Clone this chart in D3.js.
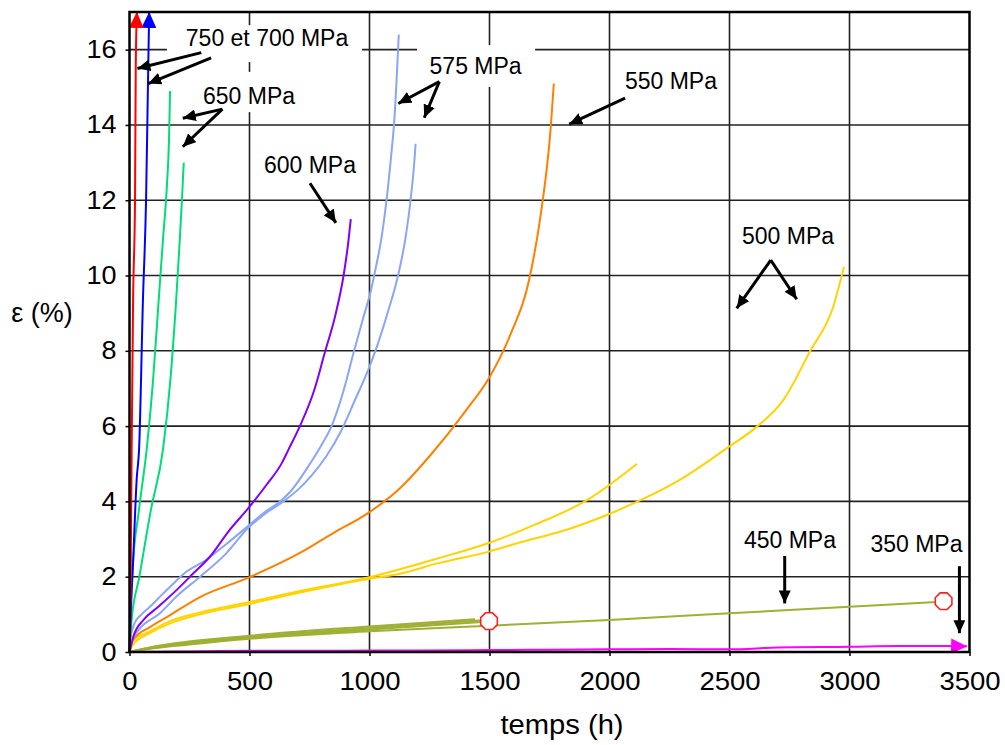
<!DOCTYPE html>
<html><head><meta charset="utf-8">
<script src="https://cdn.jsdelivr.net/npm/d3@7"></script>
<style>
html,body{margin:0;padding:0;background:#fff;}
svg{display:block;font-family:"Liberation Sans",Arial,sans-serif;}
</style></head>
<body><svg id="c" width="1005" height="745"></svg>
<script>
// ---------- DATA (temps h, epsilon %) ----------
const xTicks = [0,500,1000,1500,2000,2500,3000,3500];
const yTicks = [0,2,4,6,8,10,12,14,16];
const xLabel = "temps (h)";
const yLabel = "ε (%)";

const s750 = [[0,0],[4,1.5],[9,5.4],[15,9.35],[23,12],[26,15.5],[31,17]];
const s700 = [[0,0],[5,1],[15,2.4],[30,4.6],[40,5.4],[56,9.35],[69,12],[78,15.5],[82,17]];
const s650a = [[0,0],[3,0.8],[11,2],[40,3.8],[72,5.4],[98,7.2],[120,9.2],[140,11],[156,12.4],[165,13.7],[169,14.9]];
const s650b = [[0,0],[8,0.8],[41,2],[90,3.8],[140,5.4],[170,7.2],[193,9.2],[210,11],[220,12.2],[226,13]];
const s600 = [[0,0],[16,0.41],[58,0.85],[120,1.2],[197,1.65],[266,2.09],[335,2.53],[412,3.2],[495,3.82],[572,4.45],[634,5.01],[662,5.37],[710,6.0],[770,6.96],[815,7.98],[856,8.9],[892,10],[910,10.8],[922,11.5]];
const s575a = [[0,0],[5,0.4],[20,0.75],[50,1.0],[85,1.2],[127,1.47],[180,1.8],[230,2.1],[320,2.45],[400,2.85],[495,3.35],[560,3.7],[627,4.0],[669,4.25],[752,5.0],[800,5.5],[842,6.0],[890,6.9],[935,7.98],[975,8.9],[1002,9.5],[1026,10.2],[1050,11],[1071,12],[1092,13.3],[1102,14],[1122,16.4]];
const s575b = [[0,0],[10,0.3],[40,0.6],[127,1.03],[200,1.5],[294,2.0],[400,2.6],[495,3.3],[560,3.65],[641,4.0],[700,4.3],[760,4.7],[820,5.2],[880,5.85],[940,6.7],[995,7.5],[1030,8.1],[1075,9.0],[1119,10],[1150,11],[1171,12],[1190,13.3],[1192,13.5]];
const s550 = [[0,0],[15,0.32],[85,0.66],[169,0.98],[294,1.46],[494,1.97],[710,2.63],[849,3.16],[994,3.69],[1127,4.35],[1250,5.2],[1400,6.4],[1500,7.3],[1585,8.4],[1669,10],[1710,11.47],[1756,14],[1768,15.1]];
const s500a = [[0,0],[15,0.3],[85,0.55],[169,0.82],[294,1.05],[494,1.32],[710,1.62],[994,1.98],[1127,2.2],[1287,2.49],[1494,2.89],[1685,3.37],[1908,4.04],[2115,5.0]];
const s500b = [[0,0],[15,0.2],[85,0.5],[169,0.76],[294,1.0],[494,1.27],[710,1.58],[994,1.94],[1127,2.08],[1287,2.36],[1494,2.66],[1637,2.93],[1797,3.2],[2004,3.68],[2131,4.04],[2300,4.6],[2488,5.41],[2613,5.98],[2724,6.69],[2835,7.98],[2932,9.17],[2977,10.23]];
const s450a = [[0,0],[100,0.1],[250,0.2],[500,0.35],[1000,0.55],[1500,0.7],[2000,0.85],[2500,1.03],[3000,1.2],[3390,1.34]];
const s450b = [[0,0],[100,0.13],[500,0.4],[1000,0.64],[1460,0.84]];
const s450c = [[0,0],[100,0.11],[500,0.37],[1000,0.6],[1470,0.8]];
const s450d = [[0,0],[100,0.14],[500,0.43],[1000,0.68],[1440,0.87]];
const s350 = [[0,0],[200,0.01],[500,0.03],[800,0.03],[1000,0.04],[1200,0.04],[1500,0.05],[1750,0.06],[2000,0.07],[2250,0.08],[2500,0.07],[2700,0.12],[3000,0.14],[3200,0.16],[3400,0.16],[3490,0.15]];
const ruptureMarks = [[1498,0.82],[3392,1.35]];

// annotations: text, text anchor point (t,e), arrows [from, to] in (t,e)
const annotations = [
  {text:"750 et 700 MPa", at:[573,16.1], arrows:[[[299,15.92],[33,15.5]],[[340,15.78],[78,15.1]]], box:[[156,16.65],[969,15.67]]},
  {text:"650 MPa", at:[498,14.56], arrows:[[[387,14.42],[222,14.18]],[[387,14.42],[222,13.42]]], box:[[281,15.41],[719,14.34]]},
  {text:"600 MPa", at:[752,12.72], arrows:[[[752,12.45],[860,11.4]]]},
  {text:"575 MPa", at:[1442,15.35], arrows:[[[1291,15.15],[1120,14.57]],[[1291,15.15],[1228,14.19]]], box:[[1198,16.12],[1690,15.01]]},
  {text:"550 MPa", at:[2256,14.95], arrows:[[[2065,14.71],[1832,14.02]]]},
  {text:"500 MPa", at:[2744,10.84], arrows:[[[2672,10.41],[2530,9.13]],[[2672,10.41],[2780,9.37]]]},
  {text:"450 MPa", at:[2752,2.76], arrows:[[[2730,2.55],[2730,1.29]]]},
  {text:"350 MPa", at:[3279,2.66], arrows:[[[3458,2.28],[3458,0.5]]]}
];

const series = [
  {d:s450a,c:"#9fb034"},{d:s450b,c:"#9fb034"},{d:s450c,c:"#9fb034"},{d:s450d,c:"#9fb034"},
  {d:s350,c:"#ff00ff",arrow:true},
  {d:s500a,c:"#ffd400"},{d:s500b,c:"#ffd400"},
  {d:s550,c:"#ff8000"},
  {d:s575a,c:"#8aa6f4"},{d:s575b,c:"#8aa6f4"},
  {d:s600,c:"#7f00ff"},
  {d:s650a,c:"#00dd77"},{d:s650b,c:"#00dd77"},
  {d:s700,c:"#0000ff",arrow:true},
  {d:s750,c:"#ff0000",arrow:true}
];

// ---------- DRAW ----------
const svg = d3.select("#c");
const x = d3.scaleLinear().domain([0,3500]).range([129.5,969.5]);
const y = d3.scaleLinear().domain([0,17]).range([652,12]);

const defs = svg.append("defs");
function marker(id, color, len, wid){
  defs.append("marker").attr("id",id).attr("markerUnits","userSpaceOnUse")
    .attr("markerWidth",len).attr("markerHeight",wid).attr("refX",len).attr("refY",wid/2)
    .attr("orient","auto").append("path")
    .attr("d",`M0,0L${len},${wid/2}L0,${wid}Z`).attr("fill",color);
}
marker("ablack","#000",13,12);
series.forEach((s,i)=>{ if(s.arrow) marker("a"+i, s.c, 16, 15); });

// grid
const g = svg.append("g");
g.selectAll(".gx").data(xTicks.filter(v=>v>0&&v<3500)).join("line")
  .attr("x1",d=>x(d)).attr("x2",d=>x(d)).attr("y1",y(0)).attr("y2",y(17))
  .attr("stroke","#222").attr("stroke-width",1.6);
g.selectAll(".gy").data(yTicks.filter(v=>v>0)).join("line")
  .attr("x1",x(0)).attr("x2",x(3500)).attr("y1",d=>y(d)).attr("y2",d=>y(d))
  .attr("stroke","#222").attr("stroke-width",1.6);

// label boxes
annotations.filter(a=>a.box).forEach(a=>{
  svg.append("rect").attr("x",x(a.box[0][0])).attr("y",y(a.box[0][1]))
    .attr("width",x(a.box[1][0])-x(a.box[0][0])).attr("height",y(a.box[1][1])-y(a.box[0][1]))
    .attr("fill","#fff");
});

// series
const line = d3.line().x(d=>x(d[0])).y(d=>y(d[1])).curve(d3.curveMonotoneX);
series.forEach((s,i)=>{
  svg.append("path").attr("d",line(s.d))
    .attr("fill","none").attr("stroke",s.c).attr("stroke-width",2)
    .attr("stroke-linejoin","round")
    .attr("marker-end", s.arrow ? `url(#a${i})` : null);
});

// rupture marks (octagons)
const oct = d3.range(8).map(k=>{const a=Math.PI/8+k*Math.PI/4;return [9*Math.cos(a),9*Math.sin(a)];});
svg.selectAll(".oct").data(ruptureMarks).join("path")
  .attr("transform",d=>`translate(${x(d[0])},${y(d[1])})`)
  .attr("d","M"+oct.map(p=>p.join(",")).join("L")+"Z")
  .attr("fill","#fff").attr("stroke","#ff2020").attr("stroke-width",1.6);

// frame
svg.append("rect").attr("x",x(0)).attr("y",y(17)).attr("width",x(3500)-x(0)).attr("height",y(0)-y(17))
  .attr("fill","none").attr("stroke","#000").attr("stroke-width",2.5);

// axes
const ax = svg.append("g").attr("transform",`translate(0,${y(0)})`)
  .call(d3.axisBottom(x).tickValues(xTicks).tickSize(4).tickPadding(16).tickFormat(d3.format("d")));
const ay = svg.append("g").attr("transform",`translate(${x(0)},0)`)
  .call(d3.axisLeft(y).tickValues(yTicks).tickSize(4).tickPadding(9).tickFormat(d3.format("d")));
[ax,ay].forEach(a=>{
  a.select(".domain").remove();
  a.selectAll("line").attr("stroke","#000").attr("stroke-width",1.5);
  a.selectAll("text").attr("font-family","'Liberation Sans',Arial,sans-serif").attr("font-size",25).attr("fill","#000");
});
ax.selectAll("text").attr("transform","scale(1.1,1)").attr("x",0);
ay.selectAll("text").attr("transform","scale(1.08,1)").attr("x",-12);

svg.append("text").attr("transform",`translate(562,734) scale(1.08,1)`).attr("text-anchor","middle")
  .attr("font-size",27).text(xLabel);
svg.append("text").attr("x",42).attr("y",322).attr("text-anchor","middle")
  .attr("font-size",27).text(yLabel);

// annotations
annotations.forEach(a=>{
  svg.append("text").attr("x",x(a.at[0])).attr("y",y(a.at[1])).attr("text-anchor","middle")
    .attr("font-size",23).attr("fill","#000").text(a.text);
  a.arrows.forEach(ar=>{
    svg.append("line").attr("x1",x(ar[0][0])).attr("y1",y(ar[0][1]))
      .attr("x2",x(ar[1][0])).attr("y2",y(ar[1][1]))
      .attr("stroke","#000").attr("stroke-width",3).attr("marker-end","url(#ablack)");
  });
});
</script></body></html>
